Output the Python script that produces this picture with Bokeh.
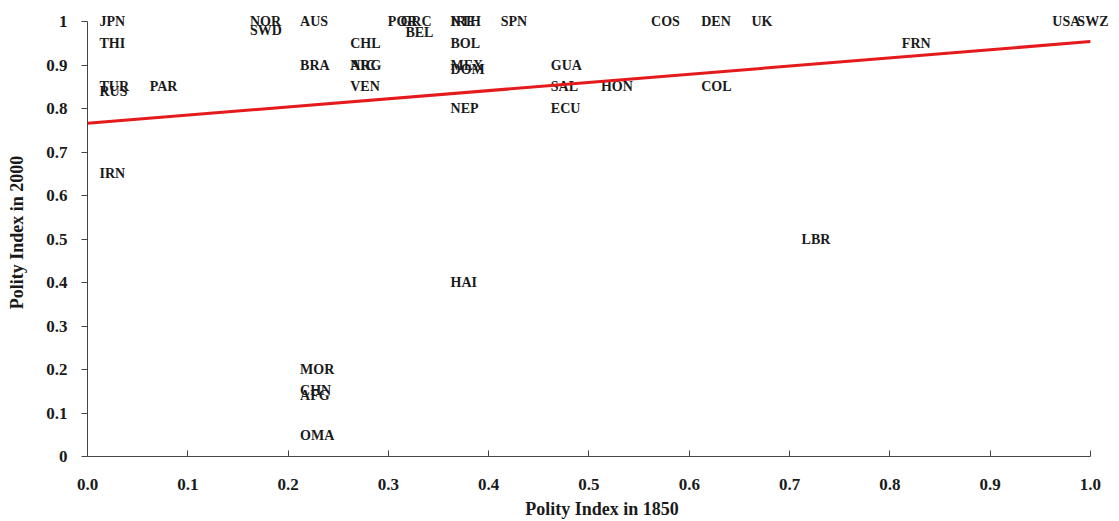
from bokeh.plotting import figure
from bokeh.models import ColumnDataSource, Range1d, FixedTicker, CustomJSTickFormatter
from bokeh.core.properties import value
from bokeh.embed import file_html
from bokeh.resources import INLINE

countries = ["JPN", "THI", "TUR", "RUS", "IRN", "PAR", "NOR", "SWD", "AUS", "BRA",
             "MOR", "CHN", "AFG", "OMA", "CHL", "NIC", "ARG", "VEN", "POR", "GRC",
             "BEL", "NTH", "IRE", "BOL", "MEX", "DOM", "NEP", "HAI", "SPN", "GUA",
             "SAL", "ECU", "HON", "COS", "DEN", "COL", "UK", "LBR", "FRN", "USA", "SWZ"]
polity_1850 = [0.0, 0.0, 0.0, 0.0, 0.0, 0.05, 0.15, 0.15, 0.2, 0.2,
               0.2, 0.2, 0.2, 0.2, 0.25, 0.25, 0.25, 0.25, 0.2875, 0.30,
               0.305, 0.35, 0.35, 0.35, 0.35, 0.35, 0.35, 0.35, 0.40, 0.45,
               0.45, 0.45, 0.50, 0.55, 0.60, 0.60, 0.65, 0.70, 0.80, 0.95, 0.975]
polity_2000 = [1.0, 0.95, 0.85, 0.84, 0.65, 0.85, 1.0, 0.98, 1.0, 0.9,
               0.2, 0.152, 0.14, 0.048, 0.95, 0.9, 0.9, 0.85, 1.0, 1.0,
               0.975, 1.0, 1.0, 0.95, 0.9, 0.89, 0.8, 0.4, 1.0, 0.9,
               0.85, 0.8, 0.85, 1.0, 1.0, 0.85, 1.0, 0.5, 0.95, 1.0, 1.0]
trend_x = [0.0, 1.0]
trend_y = [0.766, 0.954]
x_ticks = [0.0, 0.1, 0.2, 0.3, 0.4, 0.5, 0.6, 0.7, 0.8, 0.9, 1.0]
y_ticks = [0.0, 0.1, 0.2, 0.3, 0.4, 0.5, 0.6, 0.7, 0.8, 0.9, 1.0]

FONT = "Liberation Serif"
INK = "#1a1a1a"

p = figure(frame_width=1029, frame_height=448,
           x_range=Range1d(0, 1.026), y_range=Range1d(0, 1.03),
           output_backend="svg", toolbar_location=None,
           min_border_left=87, min_border_right=0, min_border_top=8, min_border_bottom=0,
           background_fill_color="white", border_fill_color="white")
p.outline_line_color = None
p.grid.visible = False

src = ColumnDataSource(dict(x=polity_1850, y=polity_2000, name=countries))
p.text(x="x", y="y", text="name", source=src, x_offset=12,
       text_align="left", text_baseline="middle",
       text_font=value(FONT), text_font_style="bold", text_font_size="14px",
       text_color=INK)

p.line(trend_x, trend_y, line_color="#e41a1c", line_width=3)

for ax in (p.xaxis[0], p.yaxis[0]):
    ax.bounds = (0, 1)
    ax.axis_line_color = "#444444"
    ax.major_tick_line_color = "#444444"
    ax.minor_tick_line_color = None
    ax.major_label_text_font = FONT
    ax.major_label_text_font_style = "bold"
    ax.major_label_text_font_size = "17px"
    ax.major_label_text_color = INK
    ax.axis_label_text_font = FONT
    ax.axis_label_text_font_style = "bold"
    ax.axis_label_text_font_size = "18px"
    ax.axis_label_text_color = INK

p.xaxis.ticker = FixedTicker(ticks=x_ticks)
p.yaxis.ticker = FixedTicker(ticks=y_ticks)
p.xaxis.formatter = CustomJSTickFormatter(code="return tick.toFixed(1);")
p.yaxis.formatter = CustomJSTickFormatter(code="return (Math.abs(tick) < 1e-9) ? '0' : (Math.abs(tick-1) < 1e-9 ? '1' : tick.toFixed(1));")
p.xaxis.major_tick_in = 6
p.xaxis.major_tick_out = 0
p.yaxis.major_tick_in = 0
p.yaxis.major_tick_out = 6
p.xaxis.major_label_standoff = 22
p.yaxis.major_label_standoff = 14
p.xaxis.axis_label = "Polity Index in 1850"
p.yaxis.axis_label = "Polity Index in 2000"
p.xaxis.axis_label_standoff = 6
p.yaxis.axis_label_standoff = 16

open("out.html", "w").write(file_html(p, INLINE))
